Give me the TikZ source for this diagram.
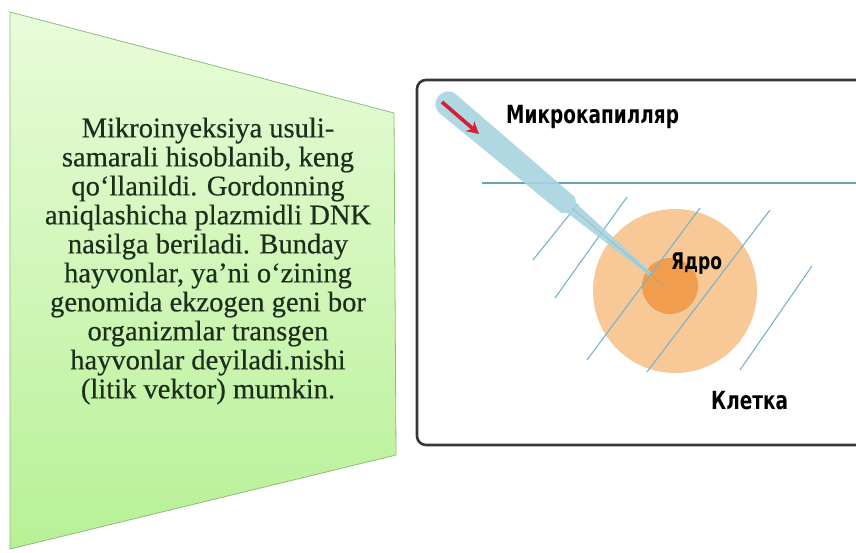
\documentclass[tikz,border=0pt]{standalone}
\usepackage{fontspec}
\setmainfont{Liberation Serif}
\newfontfamily\labelfont[FakeStretch=0.74]{DejaVu Sans}
\usetikzlibrary{arrows.meta,calc}

\definecolor{panelTop}{RGB}{232,252,218}
\definecolor{panelBot}{RGB}{184,240,150}
\definecolor{panelEdge}{RGB}{140,190,120}
\definecolor{bodyText}{RGB}{28,46,28}
\definecolor{frameGray}{RGB}{55,55,55}
\definecolor{cellFill}{RGB}{248,200,150}
\definecolor{nucFill}{RGB}{240,158,78}
\definecolor{hatch}{RGB}{120,180,205}
\definecolor{glass}{RGB}{168,212,224}
\definecolor{tipRed}{RGB}{215,30,55}

\tikzset{
  panel/.style={draw=panelEdge, line width=0.8pt, top color=panelTop, bottom color=panelBot},
  frame/.style={draw=frameGray, line width=2.6pt, rounded corners=9pt, fill=white},
  guide/.style={draw=hatch, line width=1.1pt},
  axisline/.style={draw=hatch!90!black, line width=1.8pt},
  cyrlabel/.style={font=\labelfont\bfseries\fontsize{25}{27}\selectfont, text=black, inner sep=0pt},
  bodytext/.style={align=center, text=bodyText, inner sep=0pt,
    font=\addfontfeature{FakeBold=0.4}\fontsize{28.5}{29}\selectfont},
}

\begin{document}
\begin{tikzpicture}[x=1pt, y=-1pt]
\useasboundingbox (0,0) rectangle (856,553);

% left trapezoid panel with its text
\path[panel] (10,12) -- (394,113) -- (396,455) -- (10,549) -- cycle;
\node[bodytext] (info) at (208,261) {Mikroinyeksiya usuli-\\samarali hisoblanib, keng\\qo‘llanildi. Gordonning\\aniqlashicha plazmidli DNK\\nasilga beriladi. Bunday\\hayvonlar, ya’ni o‘zining\\genomida ekzogen geni bor\\organizmlar transgen\\hayvonlar deyiladi.nishi\\(litik vektor) mumkin.};

% framed scheme on the right
\path[frame] (417,80) rectangle (880,445);

% cell and nucleus
\fill[cellFill] (675,291) circle[radius=82];
\fill[nucFill] (670,286) circle[radius=28];

% horizontal surface line
\coordinate (h0) at (482,183);
\coordinate (h1) at (860,183);
\draw[axisline] (h0) -- (h1);

% oblique hatching lines
\coordinate (a0) at (533,260); \coordinate (a1) at (578,204);
\coordinate (b0) at (555,298); \coordinate (b1) at (627,197);
\coordinate (c0) at (587,360); \coordinate (c1) at (700,208);
\coordinate (d0) at (647,372); \coordinate (d1) at (770,210);
\coordinate (e0) at (740,370); \coordinate (e1) at (812,266);
\foreach \p in {a,b,c,d,e} \draw[guide] (\p0) -- (\p1);

% micro-capillary needle
\begin{scope}[shift={(448,104)}, rotate=-40.08]
  \fill[glass, opacity=0.9] (0,-12.5) -- (157,-10.5) -- (162,-6.5) -- (264,-2)
     -- (264,2) -- (162,6.5) -- (157,10.5) -- (0,12.5)
     .. controls (-16.5,12.5) and (-16.5,-12.5) .. (0,-12.5) -- cycle;
  \draw[hatch!70!gray, line width=0.6pt, opacity=0.6] (162,0) -- (282,0);
\end{scope}

% injection arrow inside the needle
\coordinate (r0) at (442,102);
\coordinate (r1) at (479,134);
\draw[tipRed, line width=3.6pt, -{Stealth[length=12pt,width=13pt]}] (r0) -- (r1);

% labels
\node[cyrlabel, anchor=west] (cap) at (506,117) {Микрокапилляр};
\node[cyrlabel, anchor=west, font=\labelfont\bfseries\fontsize{23}{25}\selectfont] (nuc) at (671,264) {Ядро};
\node[cyrlabel, anchor=west] (cell) at (711,401) {Клетка};
\end{tikzpicture}
\end{document}
